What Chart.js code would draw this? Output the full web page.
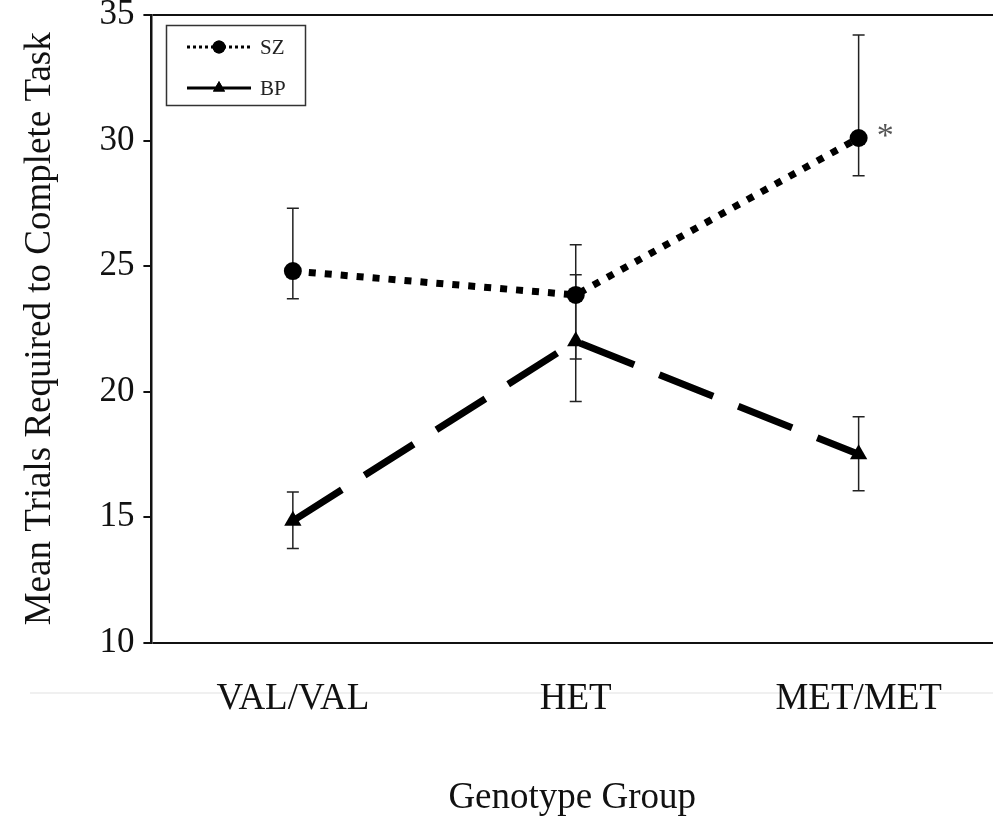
<!DOCTYPE html>
<html>
<head>
<meta charset="utf-8">
<title>Mean Trials by Genotype Group</title>
<script src="https://cdn.jsdelivr.net/npm/chart.js@4.4.1/dist/chart.umd.min.js"></script>
<style>
  html, body { margin: 0; padding: 0; background: #fff; }
</style>
</head>
<body>
<canvas id="trialsChart" width="993" height="817"></canvas>
<script>
// Genotype groups and group means with error bar ends
const genotypes = ['VAL/VAL', 'HET', 'MET/MET'];
const yTicks = [10, 15, 20, 25, 30, 35];

const szMeans = [24.8, 23.85, 30.1];
const szUpper = [27.3, 25.85, 34.2];
const szLower = [23.7, 21.3, 28.6];

const bpMeans = [14.85, 22.0, 17.5];
const bpUpper = [16.0, 24.65, 19.0];
const bpLower = [13.75, 19.6, 16.05];

const serif = 'Liberation Serif';
const ink = '#111';

const toPoints = vals => vals.map((v, i) => ({ x: i, y: v }));

// keep the plot box flush with the canvas edges (no room reserved for end labels)
const noEdgePadding = scale => {
    scale.paddingTop = 0;
    scale.paddingBottom = 0;
    scale.paddingLeft = 0;
    scale.paddingRight = 0;
};

// error bars, legend box, significance star
const extras = {
    id: 'extras',
    beforeDraw(chart) {
        const c = chart.ctx;
        c.save();
        c.strokeStyle = '#f0f0f0';
        c.lineWidth = 2;
        c.beginPath();
        c.moveTo(30, 693);
        c.lineTo(chart.width, 693);
        c.stroke();
        c.restore();
    },
    beforeDatasetsDraw(chart) {
        const c = chart.ctx;
        const xs = chart.scales.x, ys = chart.scales.y;
        const bars = [[szUpper, szLower], [bpUpper, bpLower]];
        c.save();
        c.strokeStyle = '#222';
        c.lineWidth = 1.5;
        bars.forEach(([hi, lo]) => {
            hi.forEach((h, i) => {
                const x = xs.getPixelForValue(i);
                const y1 = ys.getPixelForValue(h);
                const y2 = ys.getPixelForValue(lo[i]);
                c.beginPath();
                c.moveTo(x, y1); c.lineTo(x, y2);
                c.moveTo(x - 6, y1); c.lineTo(x + 6, y1);
                c.moveTo(x - 6, y2); c.lineTo(x + 6, y2);
                c.stroke();
            });
        });
        c.restore();
    },
    afterDatasetsDraw(chart) {
        const c = chart.ctx;
        const xs = chart.scales.x, ys = chart.scales.y;

        // asterisk beside the MET/MET schizophrenia mean
        c.save();
        c.fillStyle = '#555';
        c.font = '34px "' + serif + '"';
        c.textAlign = 'left';
        c.textBaseline = 'middle';
        c.fillText('*', xs.getPixelForValue(2) + 18, ys.getPixelForValue(szMeans[2]) - 1);
        c.restore();

        // legend
        c.save();
        c.strokeStyle = '#333';
        c.lineWidth = 1.5;
        c.strokeRect(166.5, 25.5, 139, 80);
        const rows = [
            { label: 'SZ', y: 47, dash: [3, 3], style: 'circle', r: 6.5 },
            { label: 'BP', y: 88, dash: [], style: 'triangle', r: 7 }
        ];
        rows.forEach(row => {
            c.strokeStyle = '#000';
            c.lineWidth = 3;
            c.setLineDash(row.dash);
            c.beginPath();
            c.moveTo(187, row.y);
            c.lineTo(251, row.y);
            c.stroke();
            c.setLineDash([]);
            c.fillStyle = '#000';
            Chart.helpers.drawPoint(c, { pointStyle: row.style, radius: row.r, borderWidth: 0, rotation: 0 }, 219, row.y);
            c.fill();
            c.fillStyle = '#222';
            c.font = '21px "' + serif + '"';
            c.textAlign = 'left';
            c.textBaseline = 'middle';
            c.fillText(row.label, 260, row.y + 1);
        });
        c.restore();
    }
};

new Chart(document.getElementById('trialsChart'), {
    type: 'line',
    data: {
        datasets: [{
            label: 'SZ',
            data: toPoints(szMeans),
            borderColor: '#000',
            borderWidth: 7,
            borderDash: [7, 9],
            borderCapStyle: 'butt',
            pointStyle: 'circle',
            pointRadius: 9,
            pointBackgroundColor: '#000',
            pointBorderWidth: 0,
            tension: 0
        }, {
            label: 'BP',
            data: toPoints(bpMeans),
            borderColor: '#000',
            borderWidth: 7,
            borderDash: [58, 27],
            borderCapStyle: 'butt',
            pointStyle: 'triangle',
            pointRadius: 10,
            pointBackgroundColor: '#000',
            pointBorderWidth: 0,
            tension: 0
        }]
    },
    options: {
        responsive: false,
        animation: false,
        layout: { autoPadding: false, padding: { left: 0, top: 15, right: 0, bottom: 0 } },
        plugins: {
            legend: { display: false },
            tooltip: { enabled: false }
        },
        scales: {
            x: {
                type: 'linear',
                min: -0.5,
                max: 2.475,
                afterBuildTicks: axis => { axis.ticks = genotypes.map((g, i) => ({ value: i })); },
                afterFit: noEdgePadding,
                ticks: {
                    callback: v => genotypes[v],
                    font: { family: serif, size: 37 },
                    color: ink,
                    padding: 34,
                    maxRotation: 0,
                    autoSkip: false
                },
                grid: { display: false, drawTicks: false },
                border: { display: false },
                title: {
                    display: true,
                    text: 'Genotype Group',
                    font: { family: serif, size: 37, lineHeight: 1.0 },
                    color: ink,
                    padding: { top: 25, bottom: 0 }
                }
            },
            y: {
                min: 10,
                max: 35,
                afterBuildTicks: axis => { axis.ticks = yTicks.map(v => ({ value: v })); },
                afterFit: noEdgePadding,
                ticks: {
                    font: { family: serif, size: 35 },
                    color: ink,
                    padding: 9
                },
                grid: {
                    color: c => (c.tick && (c.tick.value === 10 || c.tick.value === 35)) ? ink : 'rgba(0,0,0,0)',
                    lineWidth: 2,
                    tickLength: 8,
                    tickColor: ink,
                    tickWidth: 2
                },
                border: { color: ink, width: 2.5 },
                title: {
                    display: true,
                    text: 'Mean Trials Required to Complete Task',
                    font: { family: serif, size: 37 },
                    color: ink,
                    padding: { top: 18, bottom: 28 }
                }
            }
        }
    },
    plugins: [extras]
});
</script>
</body>
</html>
